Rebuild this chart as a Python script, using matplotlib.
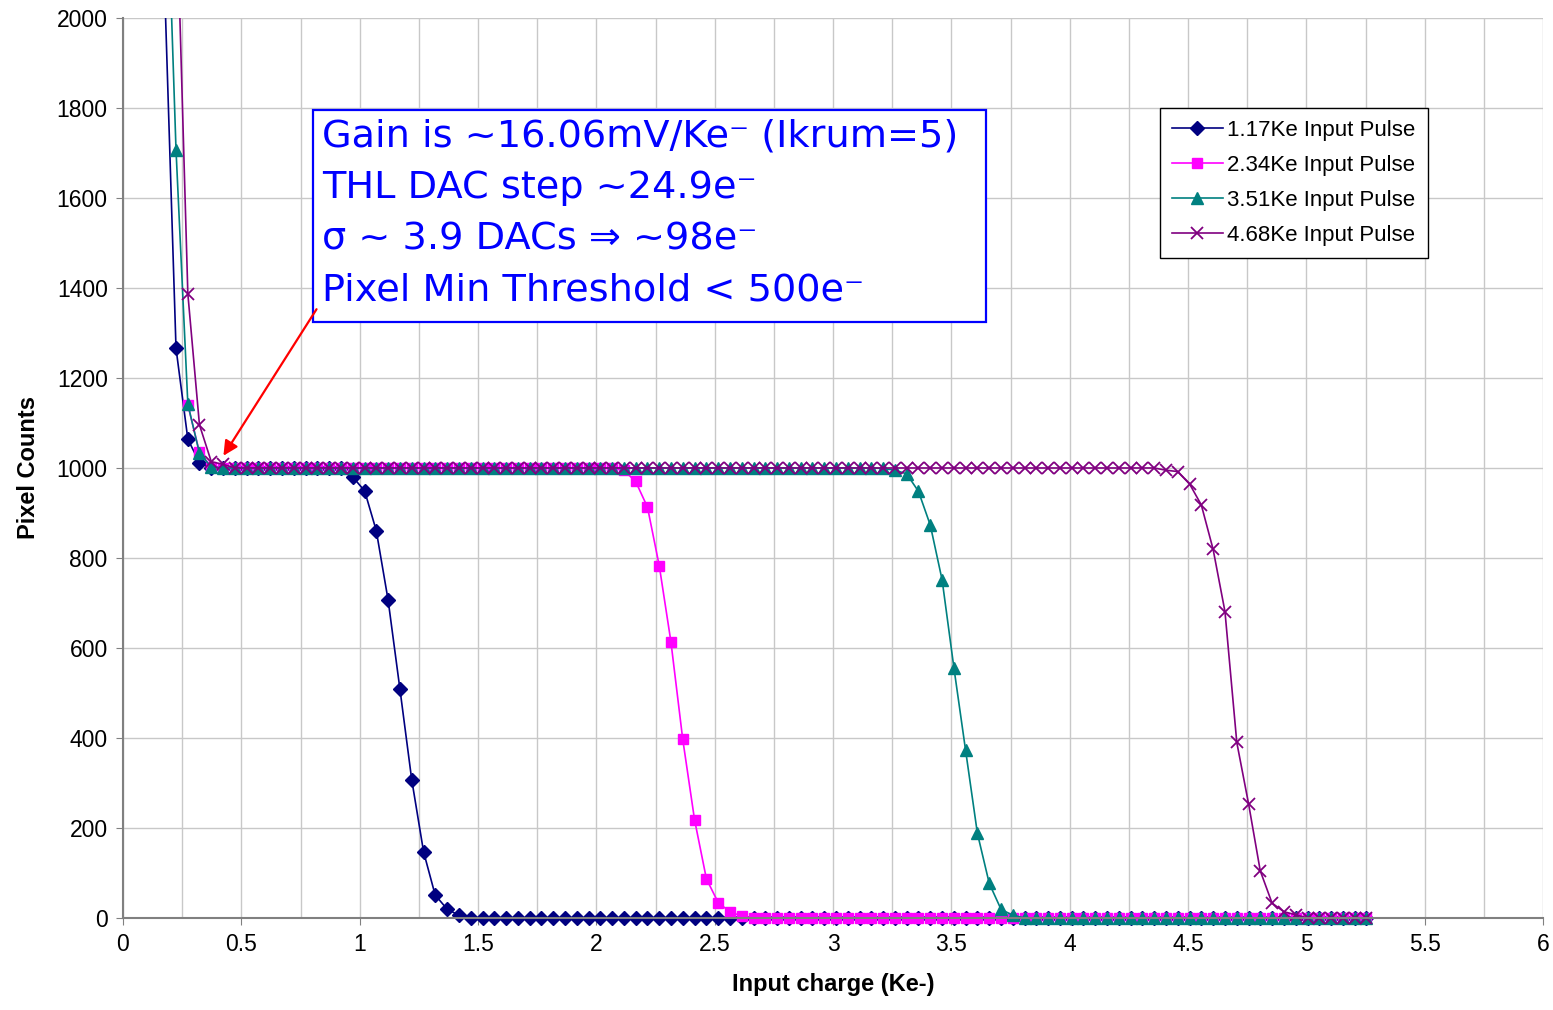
import numpy as np
import matplotlib
matplotlib.use('Agg')
import matplotlib.pyplot as plt
from matplotlib.patches import Rectangle
from matplotlib.ticker import MultipleLocator, FuncFormatter

# input charge (Ke-), one point every 2 THL DAC steps
x = [0.174, 0.224, 0.274, 0.323, 0.373, 0.423, 0.473, 0.523, 0.572, 0.622,
     0.672, 0.722, 0.772, 0.821, 0.871, 0.921, 0.971, 1.021, 1.070, 1.120,
     1.170, 1.220, 1.270, 1.319, 1.369, 1.419, 1.469, 1.519, 1.568, 1.618,
     1.668, 1.718, 1.768, 1.817, 1.867, 1.917, 1.967, 2.017, 2.066, 2.116,
     2.166, 2.216, 2.266, 2.315, 2.365, 2.415, 2.465, 2.515, 2.564, 2.614,
     2.664, 2.714, 2.764, 2.813, 2.863, 2.913, 2.963, 3.013, 3.062, 3.112,
     3.162, 3.212, 3.262, 3.311, 3.361, 3.411, 3.461, 3.511, 3.560, 3.610,
     3.660, 3.710, 3.760, 3.809, 3.859, 3.909, 3.959, 4.009, 4.058, 4.108,
     4.158, 4.208, 4.258, 4.307, 4.357, 4.407, 4.457, 4.507, 4.556, 4.606,
     4.656, 4.706, 4.756, 4.805, 4.855, 4.905, 4.955, 5.005, 5.054, 5.104,
     5.154, 5.204, 5.254]

counts_117 = ([2100, 1266, 1064, 1012] + [1000] * 12 +
              [980, 949, 861, 707, 509, 307, 147, 51, 20, 6] + [0] * 77)
counts_234 = ([np.nan, np.nan, 1140, 1035, 1003] + [1000] * 34 +
              [995, 970, 913, 782, 614, 397, 218, 87, 34, 14, 4] + [0] * 53)
counts_351 = ([2500, 1707, 1142, 1033, 1002] + [1000] * 56 +
              [999, 995, 987, 948, 873, 751, 555, 373, 188, 77, 19, 6] + [0] * 30)
counts_468 = ([3500, 2300, 1387, 1096, 1014, 1008] + [1000] * 79 +
              [995, 992, 964, 918, 819, 681, 390, 253, 105, 33, 14, 7] + [0] * 6)

labels = ["1.17Ke Input Pulse", "2.34Ke Input Pulse",
          "3.51Ke Input Pulse", "4.68Ke Input Pulse"]

note = ["Gain is ~16.06mV/Ke\u207b (Ikrum=5)",
        "THL DAC step ~24.9e\u207b",
        "\u03c3 ~ 3.9 DACs \u21d2 ~98e\u207b",
        "Pixel Min Threshold < 500e\u207b"]

plt.rcParams['font.family'] = ['Liberation Sans', 'DejaVu Sans']

fig = plt.figure(figsize=(15.53, 10.10), dpi=100)
ax = fig.add_axes([0.0792, 0.0911, 0.9144, 0.8911])

lines = []
lines += ax.plot(x, counts_117, color='#000080', lw=1.2, marker='D', ms=7, label=labels[0])
lines += ax.plot(x, counts_234, color='#FF00FF', lw=1.2, marker='s', ms=6.5, label=labels[1])
lines += ax.plot(x, counts_351, color='#008080', lw=1.2, marker='^', ms=8.5, label=labels[2])
lines += ax.plot(x, counts_468, color='#800080', lw=1.2, marker='x', ms=8, mew=1.3, label=labels[3])

# clip only at the top so markers at 0 are drawn whole
clip = Rectangle((-0.02, -0.05), 1.04, 1.05, transform=ax.transAxes,
                 visible=False)
ax.add_patch(clip)
for ln in lines:
    ln.set_clip_path(clip)

ax.set_xlim(0, 6)
ax.set_ylim(0, 2000)
ax.xaxis.set_major_locator(MultipleLocator(0.5))
ax.xaxis.set_minor_locator(MultipleLocator(0.25))
ax.yaxis.set_major_locator(MultipleLocator(200))
ax.xaxis.set_major_formatter(FuncFormatter(lambda v, p: '%g' % v))
ax.grid(which='both', color='#c8c8c8', lw=1)
ax.set_axisbelow(True)
ax.tick_params(which='minor', length=0)
ax.tick_params(which='major', direction='out', length=5, color='#808080',
               labelsize=16.5, pad=6)
for s in ['top', 'right']:
    ax.spines[s].set_visible(False)
for s in ['left', 'bottom']:
    ax.spines[s].set_color('#808080')
    ax.spines[s].set_linewidth(1.5)

ax.set_xlabel("Input charge (Ke-)", fontsize=17, fontweight='bold', labelpad=12)
ax.set_ylabel("Pixel Counts", fontsize=17, fontweight='bold', labelpad=12)

leg = ax.legend(loc='upper left', bbox_to_anchor=(0.730, 0.9), fontsize=16,
                frameon=True, fancybox=False, framealpha=1, edgecolor='black',
                borderaxespad=0, handlelength=2.3, handletextpad=0.2,
                labelspacing=0.62, borderpad=0.55)
leg.get_frame().set_linewidth(1)

# text box with the arrow
ax.add_patch(Rectangle((0.1338, 0.6622), 0.474, 0.2356, transform=ax.transAxes,
                       facecolor='white', edgecolor='#0000FF', lw=1.6, zorder=5))
for i, line in enumerate(note):
    ax.text(0.140, 0.8678 - i * 0.0567, line, transform=ax.transAxes,
            fontsize=27.5, color='#0000FF', va='center', ha='left',
            family='DejaVu Sans', zorder=6)
ax.annotate('', xy=(0.418, 1022), xytext=(0.824, 1358),
            arrowprops=dict(arrowstyle='-|>', color='#FF0000', lw=1.6,
                            mutation_scale=22), zorder=6)

fig.savefig('out.png')
